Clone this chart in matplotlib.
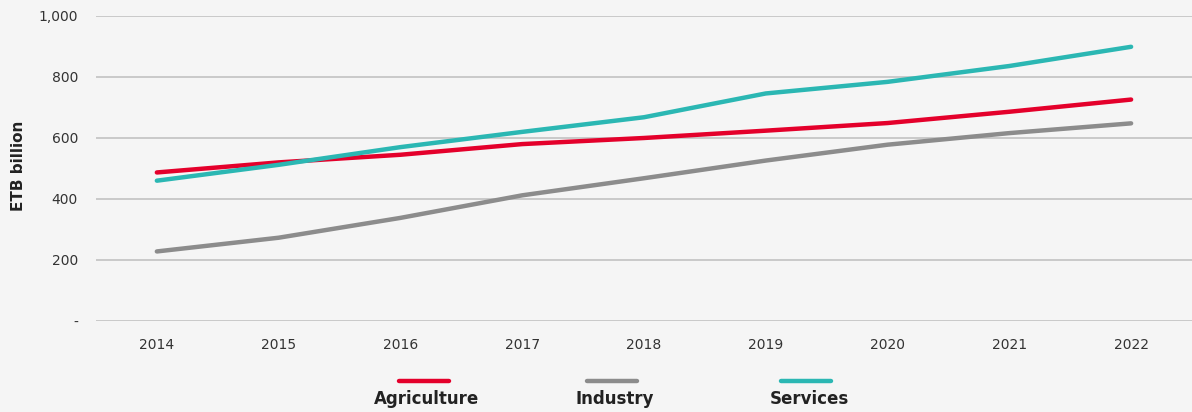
import matplotlib.pyplot as plt
from matplotlib.lines import Line2D
from matplotlib.ticker import FuncFormatter

years = ["2014", "2015", "2016", "2017", "2018", "2019", "2020", "2021", "2022"]
agriculture = [487, 520, 545, 580, 600, 624, 649, 686, 726]
industry = [228, 273, 338, 412, 468, 526, 578, 616, 648]
services = [460, 512, 570, 620, 668, 746, 784, 836, 899]

series_names = ["Agriculture", "Industry", "Services"]
series_colors = ["#e4002b", "#8c8c8c", "#2bb7b3"]

bg = "#f5f5f5"
plt.rcParams['font.family'] = ['DejaVu Sans']

fig = plt.figure(figsize=(11.92, 4.12), dpi=100, facecolor=bg)
ax = fig.add_axes([0.0805, 0.2209, 0.9195, 0.7403])
ax.set_facecolor(bg)

x = list(range(len(years)))
for vals, col in zip([agriculture, industry, services], series_colors):
    ax.plot(x, vals, color=col, lw=3.2, solid_capstyle='round', solid_joinstyle='round', zorder=3)

ax.set_xlim(-0.5, len(years) - 0.5)
ax.set_ylim(0, 1000)
ax.set_yticks([0, 200, 400, 600, 800, 1000])
ax.yaxis.set_major_formatter(FuncFormatter(lambda v, p: "-" if v == 0 else f"{v:,.0f}"))
ax.set_xticks(x)
ax.set_xticklabels(years)
ax.tick_params(length=0, labelsize=10, colors="#333333")
ax.tick_params(axis='x', pad=12)
ax.tick_params(axis='y', pad=13)
ax.grid(axis='y', color="#bdbdbd", lw=1.1)
for s in ax.spines.values():
    s.set_visible(False)

ax.set_ylabel("ETB billion", fontsize=11, fontweight='bold', color="#222222")
ax.yaxis.set_label_coords(-0.0635, 0.51)

# legend drawn by hand: short line above each bold label
line_x = [424, 612, 806]
label_x = [427, 615, 809]
for name, col, lx, tx in zip(series_names, series_colors, line_x, label_x):
    fig.add_artist(Line2D([(lx - 25) / 1192, (lx + 25) / 1192], [1 - 381 / 412] * 2,
                          color=col, lw=3.2, solid_capstyle='round'))
    fig.text(tx / 1192, 1 - 399 / 412, name, ha='center', va='center', fontsize=12,
             fontweight='bold', color="#222222")

fig.savefig("out.png", dpi=100, facecolor=bg)
